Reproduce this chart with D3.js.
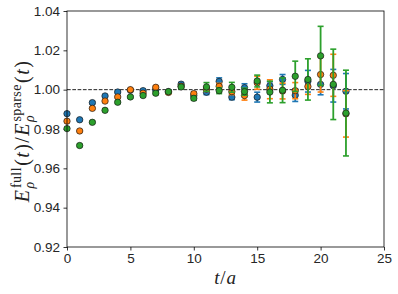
<!DOCTYPE html>
<html>
<head>
<meta charset="utf-8">
<script src="https://cdn.jsdelivr.net/npm/d3@7"></script>
<style>
  body { margin: 0; background: #fff; }
  svg { display: block; }
</style>
</head>
<body>
<script>
// time slices
var tVals = [0,1,2,3,4,5,6,7,8,9,10,11,12,13,14,15,16,17,18,19,20,21,22];

// blue series
var blueVals = [0.9878,0.9847,0.9934,0.9968,0.9988,0.9997,0.9995,1.0000,0.9990,1.0028,0.9970,0.9987,1.0042,0.9962,1.0010,0.9962,1.0020,1.0052,0.9972,1.0043,1.0027,1.0020,0.9992];
var blueErr  = [0.0004,0.0004,0.0005,0.0005,0.0005,0.0005,0.0006,0.0006,0.0007,0.0008,0.0009,0.0012,0.0018,0.0013,0.0020,0.0025,0.0020,0.0025,0.0032,0.0055,0.0053,0.0083,0.0090];

// orange series
var orangeVals = [0.9840,0.9790,0.9905,0.9942,0.9963,1.0000,0.9982,1.0012,0.9986,1.0018,0.9980,1.0003,1.0017,0.9990,0.9970,1.0035,1.0002,0.9993,0.9995,1.0016,1.0077,1.0073,0.9877];
var orangeErr  = [0.0004,0.0004,0.0005,0.0005,0.0005,0.0005,0.0006,0.0006,0.0007,0.0008,0.0009,0.0012,0.0015,0.0015,0.0023,0.0033,0.0048,0.0040,0.0041,0.0040,0.0089,0.0107,0.0118];

// green series
var greenVals = [0.9802,0.9716,0.9834,0.9895,0.9936,0.9963,0.9970,0.9982,0.9990,1.0014,0.9956,1.0014,0.9995,1.0012,0.9990,1.0044,0.9988,0.9997,1.0068,1.0052,1.0172,1.0027,0.9881];
var greenErr  = [0.0005,0.0005,0.0005,0.0005,0.0006,0.0006,0.0006,0.0007,0.0008,0.0010,0.0010,0.0022,0.0015,0.0025,0.0018,0.0030,0.0055,0.0063,0.0077,0.0105,0.0150,0.0179,0.0218];

var xTicks = [0,5,10,15,20,25];
var yTicks = [0.92,0.94,0.96,0.98,1.00,1.02,1.04];

var W = 398, H = 294;
var margin = {top: 11, right: 14, bottom: 47, left: 67};
var width = W - margin.left - margin.right;
var height = H - margin.top - margin.bottom;

var svg = d3.select("body").append("svg")
    .attr("width", W)
    .attr("height", H);

var g = svg.append("g")
    .attr("transform", "translate(" + margin.left + "," + margin.top + ")");

var x = d3.scaleLinear().domain([0, 25]).range([0, width]);
var y = d3.scaleLinear().domain([0.92, 1.04]).range([height, 0]);

// axes
var xAxis = g.append("g")
    .attr("transform", "translate(0," + height + ")")
    .call(d3.axisBottom(x).tickValues(xTicks).tickSize(3.5).tickPadding(3).tickFormat(d3.format("d")));
var yAxis = g.append("g")
    .call(d3.axisLeft(y).tickValues(yTicks).tickSize(3.5).tickPadding(3.5).tickFormat(d3.format(".2f")));

[xAxis, yAxis].forEach(function(a) {
  a.select(".domain").remove();
  a.selectAll("line").attr("stroke", "#000").attr("stroke-width", 0.8);
  a.selectAll("text")
    .attr("font-family", "Liberation Sans, Arial, sans-serif")
    .attr("font-size", "13.5px")
    .attr("fill", "#262626");
});

// reference line
g.append("line")
    .attr("x1", 0).attr("x2", width)
    .attr("y1", y(1)).attr("y2", y(1))
    .attr("stroke", "#222")
    .attr("stroke-width", 1)
    .attr("stroke-dasharray", "3.7,1.6");

// series
var series = [
  {vals: blueVals, err: blueErr, color: "#1f77b4"},
  {vals: orangeVals, err: orangeErr, color: "#ff7f0e"},
  {vals: greenVals, err: greenErr, color: "#2ca02c"}
];

var cap = 3;

series.forEach(function(s) {
  var pts = tVals.map(function(t, i) { return {t: t, v: s.vals[i], e: s.err[i]}; });
  var sg = g.append("g");

  sg.selectAll("line.bar").data(pts).enter().append("line")
    .attr("class", "bar")
    .attr("x1", function(d) { return x(d.t); })
    .attr("x2", function(d) { return x(d.t); })
    .attr("y1", function(d) { return y(d.v - d.e); })
    .attr("y2", function(d) { return y(d.v + d.e); })
    .attr("stroke", s.color)
    .attr("stroke-width", 1.8);

  ["lo", "hi"].forEach(function(k) {
    sg.selectAll("line.cap" + k).data(pts).enter().append("line")
      .attr("class", "cap" + k)
      .attr("x1", function(d) { return x(d.t) - cap; })
      .attr("x2", function(d) { return x(d.t) + cap; })
      .attr("y1", function(d) { return y(k == "lo" ? d.v - d.e : d.v + d.e); })
      .attr("y2", function(d) { return y(k == "lo" ? d.v - d.e : d.v + d.e); })
      .attr("stroke", s.color)
      .attr("stroke-width", 1.6);
  });

  sg.selectAll("circle").data(pts).enter().append("circle")
    .attr("cx", function(d) { return x(d.t); })
    .attr("cy", function(d) { return y(d.v); })
    .attr("r", 3.2)
    .attr("fill", s.color)
    .attr("stroke", "#1a1a1a")
    .attr("stroke-width", 0.7);
});

// frame
g.append("rect")
    .attr("width", width)
    .attr("height", height)
    .attr("fill", "none")
    .attr("stroke", "#000")
    .attr("stroke-width", 0.8);

// x label
var xl = svg.append("text")
    .attr("x", margin.left + width / 2)
    .attr("y", 284)
    .attr("text-anchor", "middle")
    .attr("font-family", "Liberation Serif, serif")
    .attr("font-size", "19px")
    .attr("letter-spacing", "0.8px")
    .attr("fill", "#222");
xl.append("tspan").attr("font-style", "italic").text("t");
xl.append("tspan").text("/");
xl.append("tspan").attr("font-style", "italic").text("a");

// y label built piece by piece, then rotated
var yl = svg.append("g");
var cursor = 0;
var serif = "Liberation Serif, serif";
function piece(txt, opts) {
  var tEl = yl.append("text")
    .attr("x", cursor + (opts.dx || 0))
    .attr("y", opts.dy || 0)
    .attr("font-family", serif)
    .attr("font-size", (opts.size || 20) + "px")
    .attr("letter-spacing", (opts.ls || 0.6) + "px")
    .attr("font-style", opts.italic ? "italic" : "normal")
    .attr("fill", "#222")
    .text(txt);
  return tEl.node().getComputedTextLength() + (opts.dx || 0) + (opts.pad || 0.8);
}
function supsub(sup, sub) {
  var w1 = piece(sup, {size: 14, dy: -8.5, dx: 0.5, ls: 0.4});
  var w2 = piece(sub, {size: 14, dy: 5, italic: true});
  cursor += Math.max(w1, w2) + 0.5;
}
cursor += piece("E", {italic: true});
supsub("full", "\u03c1");
cursor += piece("(", {});
cursor += piece("t", {italic: true});
cursor += piece(")", {});
cursor += piece("/", {});
cursor += piece("E", {italic: true});
supsub("sparse", "\u03c1");
cursor += piece("(", {});
cursor += piece("t", {italic: true});
cursor += piece(")", {});

var cy = margin.top + height / 2 + 2;
yl.attr("transform", "translate(29," + (cy + cursor / 2) + ") rotate(-90)");
</script>
</body>
</html>
